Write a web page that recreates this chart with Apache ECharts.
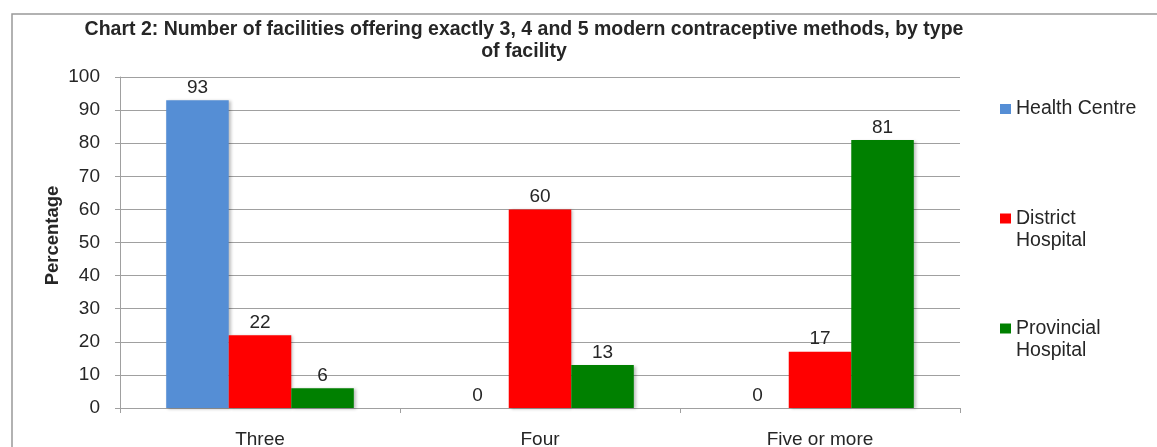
<!DOCTYPE html>
<html>
<head>
<meta charset="utf-8">
<script src="https://cdn.jsdelivr.net/npm/echarts@6/dist/echarts.min.js"></script>
<style>html,body{margin:0;padding:0;background:#fff}#c{width:1157px;height:447px}</style>
</head>
<body>
<div id="c"></div>
<script>
const categories = ['Three', 'Four', 'Five or more'];
const healthCentre = [93, 0, 0];
const districtHospital = [22, 60, 17];
const provincialHospital = [6, 13, 81];
const yTicks = [0, 10, 20, 30, 40, 50, 60, 70, 80, 90, 100];

const FONT = 'Liberation Sans, Arial, sans-serif';
const TXT = '#262626';
const chart = echarts.init(document.getElementById('c'));
const topSquare = 'path://M0,0L0,0M0,5.5L11,5.5L11,15.5L0,15.5Z M0,44L0,44';
function mk(name, data, color) {
  return {
    name, type: 'bar', data, barGap: '0%', barCategoryGap: '33%',
    itemStyle: { color, shadowBlur: 3, shadowOffsetX: 2, shadowOffsetY: 1, shadowColor: 'rgba(0,0,0,0.25)' },
    label: { show: true, position: 'top', distance: 3, color: TXT, fontFamily: FONT, fontSize: 19 }
  };
}
const legendText = { color: TXT, fontFamily: FONT, fontSize: 19.5, lineHeight: 22 };
chart.setOption({
  animation: false,
  graphic: [{ type: 'rect', shape: { x: 12, y: 14, width: 1300, height: 600 }, style: { fill: 'none', stroke: '#999', lineWidth: 1.5 }, silent: true }],
  title: {
    text: 'Chart 2: Number of facilities offering exactly 3, 4 and 5 modern contraceptive methods, by type\nof facility',
    left: 524, top: 19, textAlign: 'center', padding: 0,
    textStyle: { fontFamily: FONT, fontSize: 19.5, fontWeight: 'bold', color: TXT, lineHeight: 22 }
  },
  legend: [
    { data: ['Health Centre'], orient: 'vertical', left: 1000, top: 98, padding: 0, itemWidth: 11, itemHeight: 10, itemGap: 4, icon: 'rect', textStyle: legendText },
    { data: ['District Hospital'], orient: 'vertical', left: 1000, top: 208, padding: 0, itemWidth: 11, itemHeight: 44, itemGap: 4, icon: topSquare, textStyle: legendText, formatter: n => n.replace(' ', '\n') },
    { data: ['Provincial Hospital'], orient: 'vertical', left: 1000, top: 318, padding: 0, itemWidth: 11, itemHeight: 44, itemGap: 4, icon: topSquare, textStyle: legendText, formatter: n => n.replace(' ', '\n') }
  ],
  grid: { left: 120, right: 197, top: 77, bottom: 39, containLabel: false, outerBoundsMode: 'none' },
  xAxis: {
    type: 'category', data: categories,
    axisLine: { lineStyle: { color: '#A0A0A0', width: 1 } },
    axisTick: { show: true, length: 5, lineStyle: { color: '#A0A0A0' } },
    axisLabel: { color: TXT, fontFamily: FONT, fontSize: 19, margin: 22 }
  },
  yAxis: {
    type: 'value', min: yTicks[0], max: yTicks[yTicks.length - 1], interval: 10,
    name: 'Percentage', nameLocation: 'middle', nameGap: 58, nameMoveOverlap: false,
    nameTextStyle: { color: TXT, fontFamily: FONT, fontSize: 18.5, fontWeight: 'bold', padding: [0, 0, 0, 14] },
    axisLine: { show: true, lineStyle: { color: '#A0A0A0', width: 1 } },
    axisTick: { show: true, length: 5, lineStyle: { color: '#A0A0A0' } },
    splitLine: { lineStyle: { color: '#A0A0A0', width: 1 } },
    axisLabel: { color: TXT, fontFamily: FONT, fontSize: 19, margin: 20 }
  },
  series: [
    mk('Health Centre', healthCentre, '#558ED5'),
    mk('District Hospital', districtHospital, '#FF0000'),
    mk('Provincial Hospital', provincialHospital, '#008000')
  ]
});
</script>
</body>
</html>
